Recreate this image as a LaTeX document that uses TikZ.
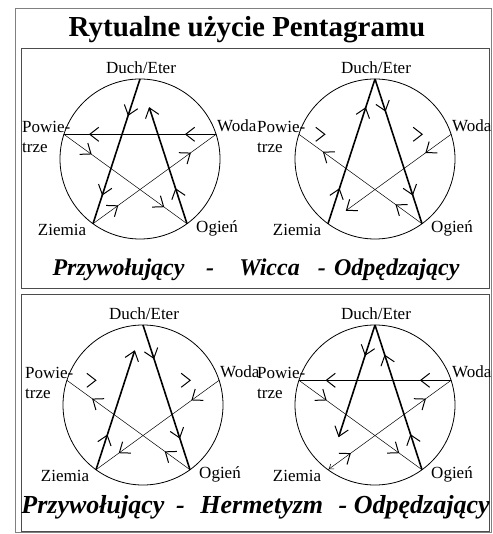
\documentclass[tikz,border=0pt]{standalone}
\usepackage{fontspec}
\setmainfont{Liberation Serif}
\usepackage{tikz}
\usetikzlibrary{calc, decorations.markings}

\begin{document}
\begin{tikzpicture}[
    x=1pt, y=-1pt,
    lbl/.style={inner sep=0pt, font=\fontsize{17}{20}\selectfont},
    capt/.style={inner sep=0pt, anchor=base, font=\bfseries\itshape\fontsize{#1}{#1}\selectfont},
    frame/.style={draw=black!70, line width=1pt},
    thickln/.style={line width=1.6pt},
    midln/.style={line width=0.9pt},
    thinln/.style={line width=0.5pt},
    chev/.style={postaction={decorate, decoration={markings,
        mark=at position #1 with {\draw[line width=1pt, solid]
            (-9pt,7pt) -- (0pt,0pt) -- (-9pt,-7pt);}}}},
    backtip/.style={postaction={decorate, decoration={markings,
        mark=at position 0.01 with {\draw[line width=0.6pt, solid]
            (4pt,3pt) -- (0pt,0pt) -- (4pt,-3pt);}}}},
]
\useasboundingbox (0,0) rectangle (492,534);

% Frames
\draw[draw=gray, line width=1.5pt] (15.5,8.5) rectangle (491.5,532.5);
\draw[frame] (21.5,48.5) rectangle (489,288);
\draw[frame] (21.5,294) rectangle (489,531);

% Title
\node[inner sep=0pt, anchor=base, font=\bfseries\fontsize{29}{31}\selectfont]
    (title) at (247,37) {Rytualne użycie Pentagramu};

% Circles, vertices and labels
\foreach \p/\cx/\cy in {A/140/159, B/375/159, C/143/405, D/375/405}{
    \coordinate (c\p) at (\cx,\cy);
    \coordinate (T\p) at (\cx,\cy-80);
    \coordinate (P\p) at (\cx-76.1,\cy-24.7);
    \coordinate (W\p) at (\cx+76.1,\cy-24.7);
    \coordinate (Z\p) at (\cx-47,\cy+64.7);
    \coordinate (O\p) at (\cx+47,\cy+64.7);
    \draw[line width=0.8pt] (c\p) circle[radius=80];
    \node[lbl] (duch\p) at (\cx+1,\cy-91) {Duch/Eter};
    \node[lbl, align=left, anchor=west] (pow\p) at (\cx-118,\cy-22) {Powie-\\trze};
    \node[lbl, anchor=west] (woda\p) at (\cx+77,\cy-33) {Woda};
    \node[lbl] (ziem\p) at (\cx-78,\cy+71) {Ziemia};
    \node[lbl] (ogien\p) at (\cx+77,\cy+69) {Ogień};
}

% Free ends of the shortened strokes
\coordinate (endA) at ($(OA)!0.8!(TA)$);
\coordinate (endB) at ($(WB)!0.85!(ZB)$);
\coordinate (endC) at ($(ZC)!0.82!(TC)$);
\coordinate (endD) at ($(TD)!0.77!(ZD)$);

% Wicca, invoking
\draw[thickln, chev=0.25, chev=0.8] (TA) -- (ZA);
\draw[thickln, chev=0.3, chev=1] (OA) -- (endA);
\draw[midln, chev=0.2, chev=0.83] (WA) -- (PA);
\draw[thinln, chev=0.22, chev=0.81] (PA) -- (OA);
\draw[thinln, chev=0.2, chev=0.79] (ZA) -- (WA);

% Wicca, banishing
\draw[thickln, chev=0.22, chev=0.8] (TB) -- (OB);
\draw[thickln, chev=0.24, chev=0.8] (ZB) -- (TB);
\draw[thinln, chev=0.24, chev=1] (WB) -- (endB);
\draw[thinln, chev=0.21, chev=0.8] (OB) -- (PB);
\path[chev=0.17, chev=0.81] (PB) -- (WB);

% Hermetic, invoking
\draw[thickln, chev=0.23, chev=0.78] (TC) -- (OC);
\draw[thickln, chev=0.29, chev=1] (ZC) -- (endC);
\draw[thinln, chev=0.22, chev=0.81] (WC) -- (ZC);
\draw[thinln, chev=0.2, chev=0.79] (OC) -- (PC);
\path[chev=0.19, chev=0.81] (PC) -- (WC);

% Hermetic, banishing
\draw[thickln, chev=0.27, chev=1] (TD) -- (endD);
\draw[thickln, chev=0.24, chev=0.79] (OD) -- (TD);
\draw[midln, chev=0.2, chev=0.82] (WD) -- (PD);
\draw[thinln, chev=0.22, chev=0.81] (PD) -- (OD);
\draw[thinln, backtip, chev=0.18, chev=0.79] (ZD) -- (WD);

% Captions
\node[capt=24] (capWicca) at (256,275)
    {Przywołujący\hspace{0.9em}-\hspace{1.05em}Wicca\hspace{0.75em}-\hspace{0.35em}Odpędzający};
\node[capt=26] (capHerm) at (255.5,513)
    {Przywołujący\hspace{0.45em}-\hspace{0.6em}Hermetyzm\hspace{0.6em}-\hspace{0.25em}Odpędzający};

\end{tikzpicture}
\end{document}
